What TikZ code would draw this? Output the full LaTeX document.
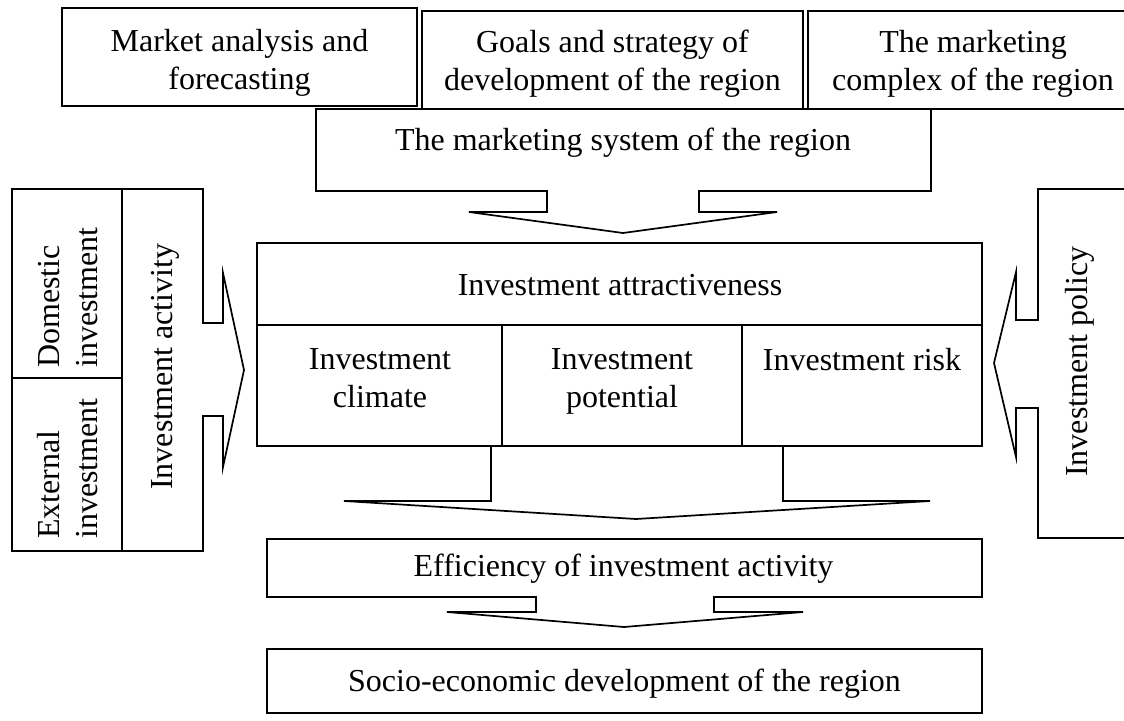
\documentclass[tikz,border=0pt]{standalone}
\usepackage{fontspec}
\setmainfont{Liberation Serif}
\begin{document}
\begin{tikzpicture}[x=1pt,y=-1pt,
  outline/.style={line width=1.7pt, line join=miter},
  lbl/.style={font=\fontsize{32}{38}\selectfont, align=center, inner sep=0pt},
  vlbl/.style={lbl, rotate=90, align=left, anchor=west}]
\useasboundingbox (0,0) rectangle (1124,720);
\clip (0,0) rectangle (1124,720);
\fill[white] (0,0) rectangle (1124,720);

% top row of source blocks
\draw[outline] (62,8) rectangle (417,106);
\draw[outline] (422,11) rectangle (803,109);
\draw[outline] (808,11) rectangle (1140,109);
\node[lbl, anchor=north] (market)  at (239.5,29) {Market analysis and\\forecasting};
\node[lbl, anchor=north] (goals)   at (612.5,30) {Goals and strategy of\\development of the region};
\node[lbl, anchor=north] (complex) at (973,30)   {The marketing\\complex of the region};

% marketing system block with its downward block arrow
\draw[outline] (547,191) -- (316,191) -- (316,109) -- (931,109) -- (931,191)
  -- (699,191) -- (699,212) -- (777,212) -- (623,233) -- (469,212) -- (547,212) -- cycle;
\node[lbl] (system) at (623,143) {The marketing system of the region};

% investment attractiveness table
\draw[outline] (257,243) rectangle (982,446);
\draw[outline] (257,325) -- (982,325);
\draw[outline] (502,325) -- (502,446);
\draw[outline] (742,325) -- (742,446);
\node[lbl] (attract)   at (620,285) {Investment attractiveness};
\node[lbl, anchor=north] (climate)   at (380,348) {Investment\\climate};
\node[lbl, anchor=north] (potential) at (622,348) {Investment\\potential};
\node[lbl, anchor=north] (risk)      at (862,348) {Investment risk};

% block arrow from the table to efficiency
\draw[outline] (491,446) -- (491,501) -- (344,501) -- (636,519) -- (930,501)
  -- (783,501) -- (783,446);

% investment activity panel with its arrow to the right
\draw[outline] (203,323) -- (203,189) -- (12,189) -- (12,551) -- (203,551)
  -- (203,416) -- (223,416) -- (223,467) -- (244,370) -- (223,273) -- (223,323) -- cycle;
\draw[outline] (122,189) -- (122,551);
\draw[outline] (12,378) -- (122,378);
\node[vlbl] (domestic) at (68,368) {Domestic\\investment};
\node[vlbl] (external) at (68,539) {External\\investment};
\node[vlbl] (activity) at (165,490) {Investment activity};

% investment policy panel with its arrow to the left
\draw[outline] (1038,320) -- (1038,189) -- (1140,189) -- (1140,538) -- (1038,538)
  -- (1038,408) -- (1016,408) -- (1016,457) -- (994,363) -- (1016,272) -- (1016,320) -- cycle;
\node[vlbl] (policy) at (1080,477) {Investment policy};

% efficiency block with its downward block arrow
\draw[outline] (536,597) -- (267,597) -- (267,539) -- (982,539) -- (982,597)
  -- (714,597) -- (714,612) -- (803,612) -- (624,627) -- (447,612) -- (536,612) -- cycle;
\node[lbl] (efficiency) at (623.5,569) {Efficiency of investment activity};

% final outcome
\draw[outline] (267,649) rectangle (982,713);
\node[lbl] (socio) at (624.5,684) {Socio-economic development of the region};
\end{tikzpicture}
\end{document}
